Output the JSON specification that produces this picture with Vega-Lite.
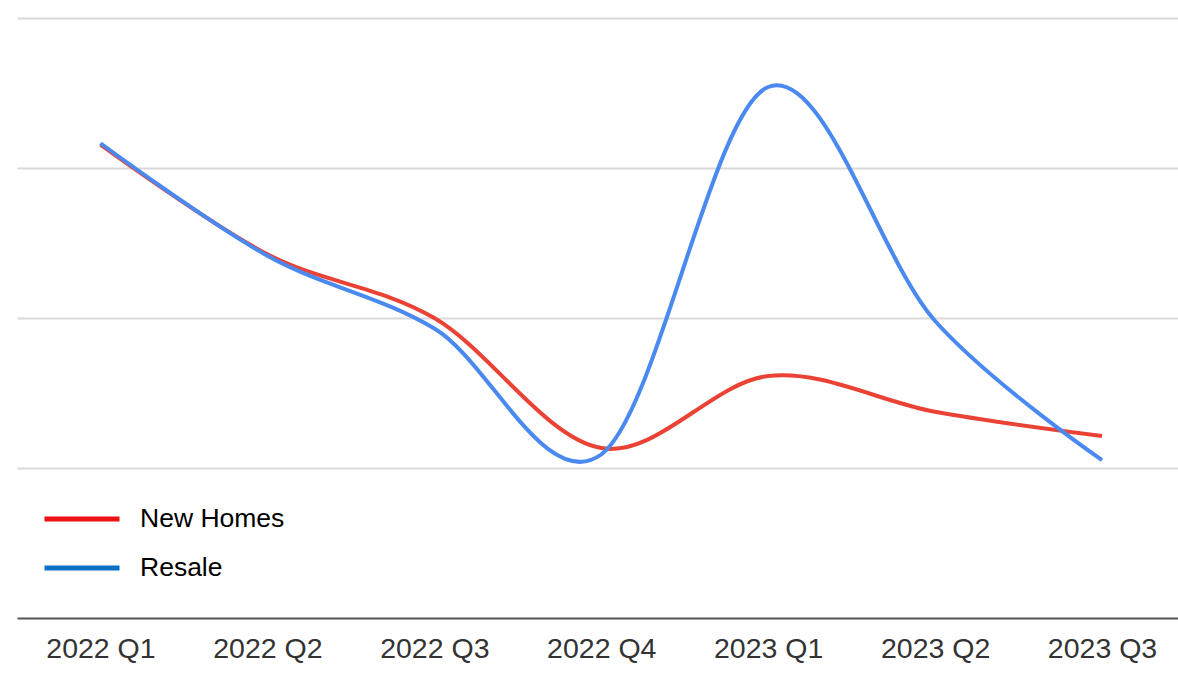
{
  "$schema": "https://vega.github.io/schema/vega-lite/v6.json",
  "autosize": "none",
  "width": 1161,
  "height": 600,
  "padding": {"left": 17, "top": 18, "right": 0, "bottom": 74},
  "background": "#ffffff",
  "config": {
    "view": {"stroke": null},
    "font": "Liberation Sans"
  },
  "data": {
    "values": [
      {"quarter": "2022 Q1", "series": "New Homes", "value": 3.155},
      {"quarter": "2022 Q2", "series": "New Homes", "value": 2.425},
      {"quarter": "2022 Q3", "series": "New Homes", "value": 2.0},
      {"quarter": "2022 Q4", "series": "New Homes", "value": 1.133},
      {"quarter": "2023 Q1", "series": "New Homes", "value": 1.613},
      {"quarter": "2023 Q2", "series": "New Homes", "value": 1.375},
      {"quarter": "2023 Q3", "series": "New Homes", "value": 1.213},
      {"quarter": "2022 Q1", "series": "Resale", "value": 3.165},
      {"quarter": "2022 Q2", "series": "Resale", "value": 2.415},
      {"quarter": "2022 Q3", "series": "Resale", "value": 1.93},
      {"quarter": "2022 Q4", "series": "Resale", "value": 1.09},
      {"quarter": "2023 Q1", "series": "Resale", "value": 3.54},
      {"quarter": "2023 Q2", "series": "Resale", "value": 1.98},
      {"quarter": "2023 Q3", "series": "Resale", "value": 1.053}
    ]
  },
  "encoding": {
    "x": {
      "field": "quarter",
      "type": "ordinal",
      "sort": null,
      "scale": {"type": "point", "padding": 0.4775, "align": 0.5235},
      "axis": {
        "title": null,
        "labelAngle": 0,
        "labelFontSize": 28.5,
        "labelColor": "#333333",
        "labelFont": "Liberation Sans",
        "labelBaseline": "alphabetic",
        "labelPadding": 39,
        "ticks": false,
        "domainColor": "#555555",
        "domainWidth": 2,
        "grid": false
      }
    },
    "y": {
      "field": "value",
      "type": "quantitative",
      "scale": {"domain": [0, 4], "nice": false, "zero": true},
      "axis": {
        "title": null,
        "labels": false,
        "ticks": false,
        "domain": false,
        "values": [1, 2, 3, 4],
        "grid": true,
        "gridColor": "#d9d9d9",
        "gridWidth": 2
      }
    }
  },
  "layer": [
    {
      "mark": {"type": "line", "opacity": 0, "strokeWidth": 4},
      "encoding": {
        "color": {
          "field": "series",
          "type": "nominal",
          "scale": {"domain": ["New Homes", "Resale"], "range": ["#ee1111", "#0b6fc4"]},
          "legend": {
            "title": null,
            "orient": "none",
            "legendX": 25,
            "legendY": 486,
            "padding": 0,
            "symbolType": "stroke",
            "symbolSize": 5625,
            "symbolStrokeWidth": 5,
            "symbolOpacity": 1,
            "clipHeight": 30,
            "rowPadding": 19,
            "labelOffset": 18,
            "labelFontSize": 26.5,
            "labelFont": "Liberation Sans",
            "labelColor": "#000000"
          }
        }
      }
    },
    {
      "mark": {"type": "line", "interpolate": "cardinal", "strokeWidth": 4},
      "encoding": {
        "color": {
          "field": "series",
          "type": "nominal",
          "scale": {"domain": ["New Homes", "Resale"], "range": ["#ea4335", "#4a89f0"]},
          "legend": null
        }
      }
    }
  ],
  "resolve": {"scale": {"color": "independent"}}
}
